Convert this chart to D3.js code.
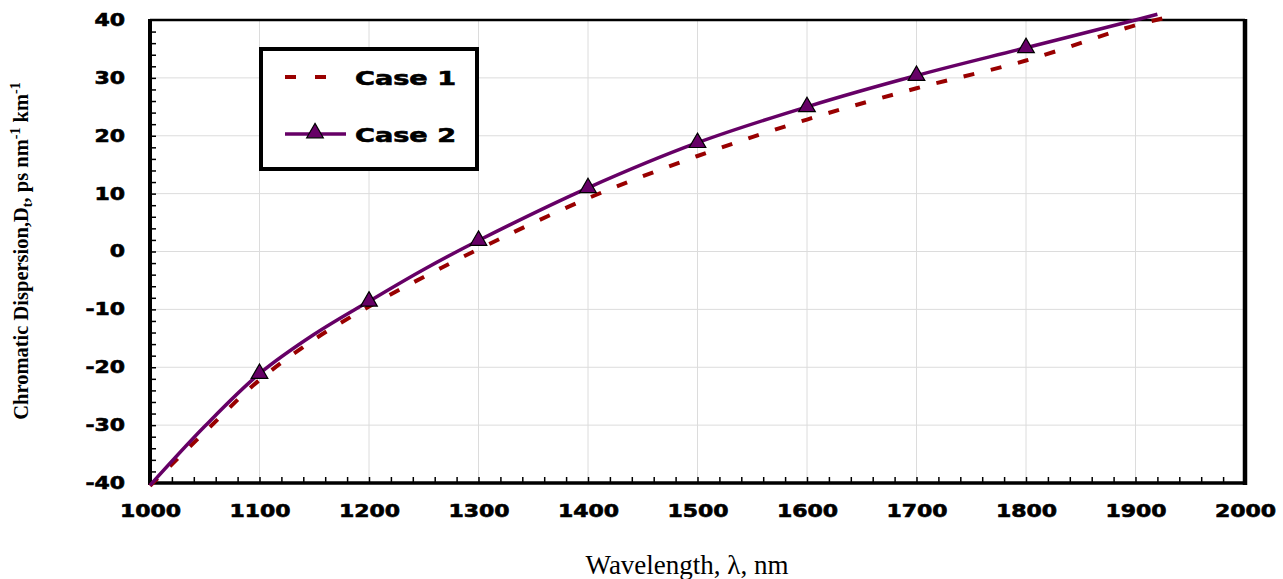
<!DOCTYPE html>
<html>
<head>
<meta charset="utf-8">
<script src="https://cdn.jsdelivr.net/npm/d3@7"></script>
<style>
  body { margin: 0; background: #fff; }
  svg { display: block; }
</style>
</head>
<body>
<div id="chart"></div>
<script>
// values
var case1Wl  = [1000, 1050, 1100, 1150, 1200, 1250, 1300, 1400, 1500, 1600, 1700, 1800, 1900, 1935];
var case1Val = [-40.5, -31.2, -22.2, -15.2, -9.5, -4.4, 0.4, 9.2, 16.5, 22.8, 28.2, 33.0, 39.1, 40.7];

var case2Wl  = [1000, 1050, 1100, 1150, 1200, 1250, 1300, 1400, 1500, 1600, 1700, 1800, 1900, 1920];
var case2Val = [-40.4, -30.2, -21.1, -14.3, -8.6, -3.1, 1.9, 11.0, 18.8, 25.0, 30.4, 35.2, 40.0, 41.0];

var markerWl = [1100, 1200, 1300, 1400, 1500, 1600, 1700, 1800];

var xTicks = [1000, 1100, 1200, 1300, 1400, 1500, 1600, 1700, 1800, 1900, 2000];
var yTicks = [-40, -30, -20, -10, 0, 10, 20, 30, 40];

var W = 1283, H = 579;
var pLeft = 150, pRight = 1245, pTop = 20, pBottom = 483;

var svg = d3.select("#chart").append("svg")
    .attr("width", W)
    .attr("height", H);

var x = d3.scaleLinear().domain([1000, 2000]).range([pLeft, pRight]);
var y = d3.scaleLinear().domain([-40, 40]).range([pBottom, pTop]);

var heavy = "'Arial Black', 'DejaVu Sans', sans-serif";

// grid
var grid = svg.append("g").attr("stroke", "#dcdcdc").attr("stroke-width", 1);
grid.selectAll(".vg").data(xTicks.slice(1, -1)).enter().append("line")
    .attr("x1", d => x(d)).attr("x2", d => x(d))
    .attr("y1", pTop).attr("y2", pBottom);
grid.selectAll(".hg").data(yTicks.slice(1, -1)).enter().append("line")
    .attr("x1", pLeft).attr("x2", pRight)
    .attr("y1", d => y(d)).attr("y2", d => y(d));

// minor ticks, inside the plot
var minorY = d3.range(-38, 40, 2);
var minorX = d3.range(1020, 2000, 20);

svg.append("g")
    .attr("transform", "translate(" + pLeft + ",0)")
    .call(d3.axisLeft(y).tickValues(minorY).tickSize(-6).tickSizeOuter(0).tickFormat(""))
    .call(g => g.select(".domain").remove())
    .selectAll("line").attr("stroke", "#000").attr("stroke-width", 1.5);

svg.append("g")
    .attr("transform", "translate(0," + pBottom + ")")
    .call(d3.axisBottom(x).tickValues(minorX).tickSize(-6).tickSizeOuter(0).tickFormat(""))
    .call(g => g.select(".domain").remove())
    .selectAll("line").attr("stroke", "#000").attr("stroke-width", 1.5);

// frame
svg.append("line").attr("x1", pLeft).attr("x2", pRight).attr("y1", pTop).attr("y2", pTop)
    .attr("stroke", "#000").attr("stroke-width", 2.5);
svg.append("line").attr("x1", pRight).attr("x2", pRight).attr("y1", pTop - 1).attr("y2", pBottom + 2)
    .attr("stroke", "#000").attr("stroke-width", 4.5);

// tick labels are stretched wide in the reference
function digitsWidth(s) {
    var w = 0;
    for (var i = 0; i < s.length; i++) w += (s[i] === "-") ? 9 : 15.3;
    return w;
}

function heavyText(sel, size) {
    sel.attr("font-family", heavy).attr("font-weight", "bold").attr("font-size", size)
        .attr("fill", "#000").attr("stroke", "#000").attr("stroke-width", 0.6)
        .attr("lengthAdjust", "spacingAndGlyphs");
}

var yAxis = svg.append("g")
    .attr("transform", "translate(" + pLeft + ",0)")
    .call(d3.axisLeft(y).tickValues(yTicks).tickSize(0).tickPadding(25).tickSizeOuter(0)
        .tickFormat(d => String(d)));
yAxis.select(".domain").attr("stroke", "#000").attr("stroke-width", 4)
    .attr("d", "M0," + (pTop - 1) + "V" + (pBottom + 2));
yAxis.selectAll("text")
    .call(heavyText, 17)
    .attr("textLength", d => digitsWidth(String(d)));

var xAxis = svg.append("g")
    .attr("transform", "translate(0," + pBottom + ")")
    .call(d3.axisBottom(x).tickValues(xTicks).tickSize(0).tickSizeOuter(0).tickFormat(d => String(d)));
xAxis.select(".domain").attr("stroke", "#000").attr("stroke-width", 3.5)
    .attr("d", "M" + (pLeft - 2) + ",0H" + (pRight + 2));
xAxis.selectAll("text")
    .attr("y", 34).attr("dy", null)
    .call(heavyText, 17)
    .attr("textLength", d => digitsWidth(String(d)));

// curves
var line = d3.line()
    .x(d => x(d[0]))
    .y(d => y(d[1]))
    .curve(d3.curveCatmullRom.alpha(0.5));

var case1 = case1Wl.map((w, i) => [w, case1Val[i]]);
var case2 = case2Wl.map((w, i) => [w, case2Val[i]]);

svg.append("path").datum(case1)
    .attr("d", line)
    .attr("fill", "none")
    .attr("stroke", "#990000")
    .attr("stroke-width", 4)
    .attr("stroke-dasharray", "11,17");

svg.append("path").datum(case2)
    .attr("d", line)
    .attr("fill", "none")
    .attr("stroke", "#660066")
    .attr("stroke-width", 3.5);

var tri = d3.symbol(d3.symbolTriangle, 120);
svg.append("g").selectAll("path")
    .data(case2.filter(d => markerWl.indexOf(d[0]) > -1))
    .enter().append("path")
    .attr("d", tri)
    .attr("transform", d => "translate(" + x(d[0]) + "," + y(d[1]) + ")")
    .attr("fill", "#660066")
    .attr("stroke", "#000")
    .attr("stroke-width", 1.2);

// legend
var lg = svg.append("g");
lg.append("rect")
    .attr("x", 261).attr("y", 49).attr("width", 216).attr("height", 120)
    .attr("fill", "#fff").attr("stroke", "#000").attr("stroke-width", 4);

lg.append("line")
    .attr("x1", 285).attr("x2", 326).attr("y1", 77).attr("y2", 77)
    .attr("stroke", "#990000").attr("stroke-width", 4).attr("stroke-dasharray", "11,19");
lg.append("line")
    .attr("x1", 285).attr("x2", 346).attr("y1", 134).attr("y2", 134)
    .attr("stroke", "#660066").attr("stroke-width", 3.5);
lg.append("path")
    .attr("d", tri)
    .attr("transform", "translate(315,133)")
    .attr("fill", "#660066").attr("stroke", "#000").attr("stroke-width", 1.2);

lg.selectAll("text").data(["Case 1", "Case 2"]).enter().append("text")
    .attr("x", 355)
    .attr("y", (d, i) => i === 0 ? 85 : 142)
    .call(heavyText, 19)
    .attr("textLength", 101)
    .text(d => d);

// axis titles
svg.append("text")
    .attr("x", 687)
    .attr("y", 574)
    .attr("text-anchor", "middle")
    .attr("font-family", "'Liberation Serif', 'Times New Roman', serif")
    .attr("font-size", 27)
    .text("Wavelength, \u03bb, nm");

var yt = svg.append("text")
    .attr("transform", "translate(28,251) rotate(-90)")
    .attr("text-anchor", "middle")
    .attr("font-family", "'Liberation Serif', 'Times New Roman', serif")
    .attr("font-weight", "bold")
    .attr("font-size", 20.5);
yt.append("tspan").text("Chromatic Dispersion,D");
yt.append("tspan").attr("font-size", 14).attr("dy", 4).text("t");
yt.append("tspan").attr("dy", -4).text(", ps nm");
yt.append("tspan").attr("font-size", 14).attr("dy", -8).text("-1");
yt.append("tspan").attr("dy", 8).text(" km");
yt.append("tspan").attr("font-size", 14).attr("dy", -8).text("-1");
</script>
</body>
</html>
